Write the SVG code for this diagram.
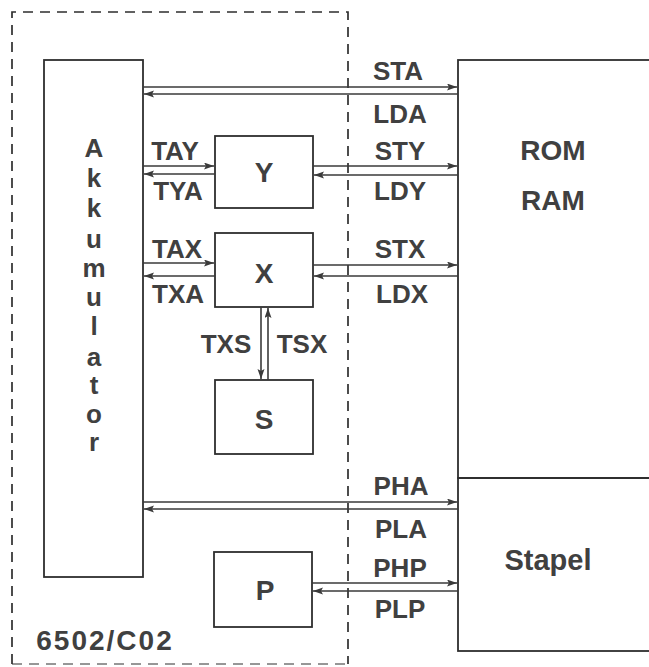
<svg xmlns="http://www.w3.org/2000/svg" width="649" height="667" viewBox="0 0 649 667">
  <style>
    .box { fill: none; stroke: #2e2e2e; stroke-width: 1.8; }
    .frame { fill: none; stroke: #2e2e2e; stroke-width: 1.7; stroke-dasharray: 10 7; }
    .conn { stroke: #3a3a3a; stroke-width: 1.6; fill: none; marker-end: url(#arr); }
    text { font-family: "Liberation Sans", Arial, Helvetica, sans-serif; font-weight: bold; fill: #404040; text-anchor: middle; }
    .lbl { font-size: 26px; }
    .big { font-size: 28px; }
    .acc { font-size: 26px; }
  </style>
  <defs>
    <marker id="arr" markerUnits="userSpaceOnUse" markerWidth="11" markerHeight="8" refX="10" refY="3.5" orient="auto">
      <path d="M0,0 L10,3.5 L0,7 L2,3.5 z" fill="#3a3a3a"/>
    </marker>
  </defs>

  <g id="frame">
    <path class="frame" d="M12,664 L12,12 L348,12 L348,664"/>
    <path class="frame" d="M12,664 L348,664" style="stroke-width:1"/>
    <text x="105" y="650" style="font-size:28px; letter-spacing:2px">6502/C02</text>
  </g>

  <g id="akkumulator">
    <rect class="box" x="44" y="60" width="99" height="517"/>
    <text class="acc" x="94" y="157">A</text>
    <text class="acc" x="94" y="187">k</text>
    <text class="acc" x="94" y="217">k</text>
    <text class="acc" x="94" y="248">u</text>
    <text class="acc" x="94" y="277">m</text>
    <text class="acc" x="94" y="306">u</text>
    <text class="acc" x="94" y="335">l</text>
    <text class="acc" x="94" y="366">a</text>
    <text class="acc" x="94" y="394">t</text>
    <text class="acc" x="94" y="423">o</text>
    <text class="acc" x="94" y="451">r</text>
  </g>

  <g id="reg-y">
    <rect class="box" x="215" y="136" width="98" height="72"/>
    <text class="big" x="264" y="182">Y</text>
  </g>
  <g id="reg-x">
    <rect class="box" x="215" y="233" width="98" height="74"/>
    <text class="big" x="264" y="283">X</text>
  </g>
  <g id="reg-s">
    <rect class="box" x="215" y="380" width="98" height="74"/>
    <text class="big" x="264" y="429">S</text>
  </g>
  <g id="reg-p">
    <rect class="box" x="214" y="552" width="98" height="75"/>
    <text class="big" x="265" y="600">P</text>
  </g>

  <g id="rom-ram">
    <rect class="box" x="458" y="60" width="200" height="418"/>
    <text class="big" x="553" y="160">ROM</text>
    <text class="big" x="553" y="210">RAM</text>
  </g>
  <g id="stapel">
    <rect class="box" x="458" y="478" width="200" height="173"/>
    <text x="548" y="570" style="font-size:29px">Stapel</text>
  </g>

  <g id="connectors">
    <line class="conn" x1="143" y1="87" x2="457" y2="87"/>
    <line class="conn" x1="458" y1="94" x2="144" y2="94"/>
    <line class="conn" x1="143" y1="166" x2="214" y2="166"/>
    <line class="conn" x1="215" y1="174" x2="144" y2="174"/>
    <line class="conn" x1="313" y1="166" x2="457" y2="166"/>
    <line class="conn" x1="458" y1="175" x2="314" y2="175"/>
    <line class="conn" x1="143" y1="263" x2="214" y2="263"/>
    <line class="conn" x1="215" y1="276" x2="144" y2="276"/>
    <line class="conn" x1="313" y1="265" x2="457" y2="265"/>
    <line class="conn" x1="458" y1="276" x2="314" y2="276"/>
    <line class="conn" x1="261" y1="307" x2="261" y2="379"/>
    <line class="conn" x1="268" y1="380" x2="268" y2="308"/>
    <line class="conn" x1="143" y1="502" x2="457" y2="502"/>
    <line class="conn" x1="458" y1="509" x2="144" y2="509"/>
    <line class="conn" x1="312" y1="583" x2="457" y2="583"/>
    <line class="conn" x1="458" y1="591" x2="313" y2="591"/>

    <text class="lbl" x="398" y="80">STA</text>
    <text class="lbl" x="400" y="123">LDA</text>
    <text class="lbl" x="175" y="160">TAY</text>
    <text class="lbl" x="178" y="200">TYA</text>
    <text class="lbl" x="400" y="160">STY</text>
    <text class="lbl" x="400" y="200">LDY</text>
    <text class="lbl" x="177" y="258">TAX</text>
    <text class="lbl" x="178" y="303">TXA</text>
    <text class="lbl" x="400" y="258">STX</text>
    <text class="lbl" x="402" y="303">LDX</text>
    <text class="lbl" x="226" y="353">TXS</text>
    <text class="lbl" x="302" y="353">TSX</text>
    <text class="lbl" x="401" y="495">PHA</text>
    <text class="lbl" x="401" y="538">PLA</text>
    <text class="lbl" x="400" y="577">PHP</text>
    <text class="lbl" x="400" y="618">PLP</text>
  </g>
</svg>
